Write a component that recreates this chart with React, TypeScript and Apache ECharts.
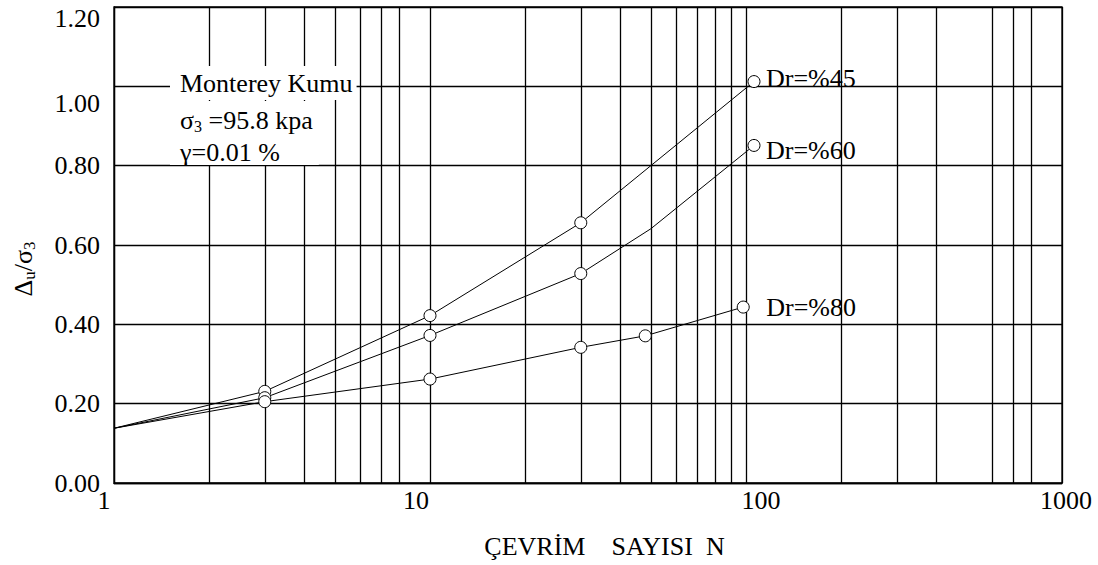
import React, { useEffect, useRef } from "react";
import * as echarts from "echarts";

const FONT = "'Liberation Serif', 'Times New Roman', serif";

// Axis ticks
const cycleTicks = [1, 10, 100, 1000];
const ratioTicks = [0, 0.2, 0.4, 0.6, 0.8, 1.0, 1.2];
// Intermediate vertical grid lines of the log paper
const minorGridN = [2, 3, 4, 5, 6, 7, 8, 20, 30, 40, 50, 60, 70, 80, 90, 200, 300, 400, 600, 700, 800];

// Series: number of cycles N and pore-pressure ratio
const seriesNames = ["Dr=%45", "Dr=%60", "Dr=%80"];
const dr45N = [1, 3, 10, 30, 106];
const dr45V = [0.138, 0.231, 0.422, 0.656, 1.012];
const dr45Marked = [false, true, true, true, true];
const dr60N = [1, 3, 10, 30, 50, 106];
const dr60V = [0.138, 0.215, 0.372, 0.528, 0.641, 0.851];
const dr60Marked = [false, true, true, true, false, true];
const dr80N = [1, 3, 10, 30, 48, 98];
const dr80V = [0.138, 0.205, 0.262, 0.342, 0.371, 0.4435];
const dr80Marked = [false, true, true, true, true, true];

const toData = (N: number[], V: number[], marked: boolean[]) =>
  N.map((n, i) => (marked[i] ? [n, V[i]] : { value: [n, V[i]], symbol: "none" }));

export default function App() {
  const ref = useRef<HTMLDivElement>(null);

  useEffect(() => {
    if (!ref.current) return;
    const chart = echarts.init(ref.current, null, { renderer: "svg" });

    const gridLine = { color: "#000", width: 1.3, type: "solid" as const };

    const lineSeries = (
      name: string,
      data: any[],
      labelDistance: number,
      labelOffset: number[],
      extra: any = {}
    ) => ({
      name,
      type: "line",
      data,
      z: 2,
      symbol: "circle",
      symbolSize: 12,
      showAllSymbol: true,
      lineStyle: { color: "#000", width: 1 },
      itemStyle: { color: "#fff", borderColor: "#000", borderWidth: 1 },
      emphasis: { disabled: true },
      endLabel: {
        show: true,
        formatter: name,
        distance: labelDistance,
        offset: labelOffset,
        color: "#000",
        fontFamily: FONT,
        fontSize: 26,
      },
      ...extra,
    });

    chart.setOption({
      animation: false,
      backgroundColor: "#fff",
      grid: {
        left: 114,
        right: 36,
        top: 7,
        bottom: 82,
        show: true,
        borderColor: "#000",
        borderWidth: 1.3,
      },
      xAxis: {
        type: "log",
        logBase: 10,
        min: cycleTicks[0],
        max: cycleTicks[cycleTicks.length - 1],
        axisLine: { show: true, lineStyle: { color: "#000", width: 1.3 } },
        axisTick: { show: false },
        splitLine: { show: true, lineStyle: gridLine },
        axisLabel: {
          margin: 4,
          formatter: (v: number) => {
            const r = Math.round(v);
            if (r === 1) return "{l1|1}";
            if (r === 10) return "{l10|10}";
            if (r === 100) return "{l100|100}";
            return "{l1000|" + r + "}";
          },
          rich: {
            l1: { fontFamily: FONT, fontSize: 26, color: "#000", padding: [0, 20, 0, 0] },
            l10: { fontFamily: FONT, fontSize: 26, color: "#000", padding: [0, 28, 0, 0] },
            l100: { fontFamily: FONT, fontSize: 26, color: "#000", padding: [0, 0, 0, 30] },
            l1000: { fontFamily: FONT, fontSize: 26, color: "#000", padding: [0, 0, 0, 8] },
          },
        },
        name: "ÇEVRİM\u00a0\u00a0\u00a0\u00a0SAYISI\u00a0\u00a0N",
        nameLocation: "middle",
        nameGap: 50,
        nameTextStyle: {
          fontFamily: FONT,
          fontSize: 26,
          color: "#000",
          padding: [0, 0, 0, 33],
        },
      },
      yAxis: {
        type: "value",
        min: ratioTicks[0],
        max: ratioTicks[ratioTicks.length - 1],
        interval: 0.2,
        z: 1.5,
        axisLine: { show: true, lineStyle: { color: "#000", width: 1.3 } },
        axisTick: { show: false },
        splitLine: { show: true, lineStyle: gridLine },
        axisLabel: {
          margin: 14,
          formatter: (v: number) => {
            const t = v.toFixed(2);
            if (Math.abs(v - 1.2) < 1e-6) return "{top|" + t + "}";
            if (Math.abs(v - 1.0) < 1e-6) return "{one|" + t + "}";
            return "{n|" + t + "}";
          },
          rich: {
            n: { fontFamily: FONT, fontSize: 26, color: "#000" },
            top: { fontFamily: FONT, fontSize: 26, color: "#000", padding: [22, 0, 0, 0] },
            one: { fontFamily: FONT, fontSize: 26, color: "#000", padding: [34, 0, 0, 0] },
          },
        },
        name: "{d|Δ}{s|u}{d|/σ}{s|3}",
        nameLocation: "middle",
        nameRotate: 90,
        nameGap: 76,
        nameTextStyle: {
          padding: [0, 48, 0, 0],
          rich: {
            d: { fontFamily: FONT, fontSize: 26, color: "#000" },
            s: { fontFamily: FONT, fontSize: 17, color: "#000", padding: [12, 0, 0, 0] },
          },
        },
      },
      series: [
        lineSeries(seriesNames[0], toData(dr45N, dr45V, dr45Marked), 8, [4, -3], {
          markLine: {
            silent: true,
            z: 1,
            symbol: ["none", "none"],
            label: { show: false },
            lineStyle: gridLine,
            emphasis: { disabled: true },
            data: minorGridN.map((n) => ({ xAxis: n })),
          },
        }),
        lineSeries(seriesNames[1], toData(dr60N, dr60V, dr60Marked), 8, [4, 5]),
        lineSeries(seriesNames[2], toData(dr80N, dr80V, dr80Marked), 8, [15, 0]),
      ],
      graphic: [
        {
          type: "text",
          z: 3,
          x: 170,
          y: 66,
          style: {
            text: "Monterey Kumu",
            font: "26px " + FONT,
            fill: "#000",
            lineHeight: 34,
            backgroundColor: "#fff",
            padding: [0, 4, 0, 10],
          },
        },
        {
          type: "text",
          z: 3,
          x: 170,
          y: 101,
          style: {
            text: "{g|σ}{s|3}{g| =95.8 kpa}",
            fill: "#000",
            backgroundColor: "#fff",
            padding: [0, 2, 0, 10],
            rich: {
              g: { fontFamily: FONT, fontSize: 26, lineHeight: 39, fill: "#000" },
              s: { fontFamily: FONT, fontSize: 16, lineHeight: 39, fill: "#000", padding: [12, 0, 0, 0] },
            },
          },
        },
        {
          type: "text",
          z: 3,
          x: 170,
          y: 140,
          style: {
            text: "γ=0.01 %",
            font: "26px " + FONT,
            fill: "#000",
            lineHeight: 25,
            backgroundColor: "#fff",
            padding: [0, 39, 0, 10],
          },
        },
      ],
    });

    return () => chart.dispose();
  }, []);

  return (
    <div
      ref={ref}
      style={{ position: "absolute", left: 0, top: 0, width: 1098, height: 565 }}
    />
  );
}
